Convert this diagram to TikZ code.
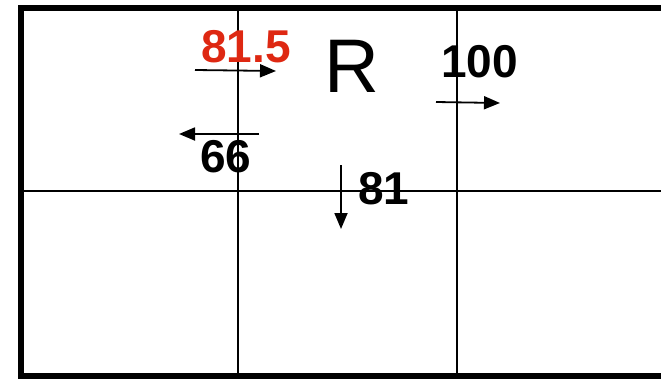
\documentclass[tikz,border=0pt]{standalone}
\usepackage{fontspec}
\setmainfont{Liberation Sans}
\usetikzlibrary{arrows.meta}
\definecolor{redval}{RGB}{222,40,18}
\begin{document}
\begin{tikzpicture}[x=1pt,y=-1pt,
  thick border/.style={line width=6pt},
  grid line/.style={line width=2pt},
  flow/.style={line width=1.8pt,-{Triangle[length=16pt,width=13pt]}},
  val/.style={inner sep=0pt,font=\fontsize{46}{50}\bfseries\selectfont},
  lbl/.style={inner sep=0pt,font=\fontsize{76}{80}\selectfont}]
\useasboundingbox (0,0) rectangle (661,378);
% grid
\draw[grid line] (20,190.5) -- (661,190.5);
\draw[grid line] (238,7) -- (238,376);
\draw[grid line] (457,7) -- (457,376);
\draw[thick border] (661,7.5) -- (20.5,7.5) -- (20.5,375.5) -- (661,375.5);
% labels
\node[lbl] (R) at (352,66) {R};
\node[val,text=redval] (v815) at (246,46.5) {81.5};
\node[val] (v66) at (226,157) {66};
\node[val] (v100) at (479.5,61.5) {100};
\node[val] (v81) at (384,189) {81};
% arrows
\coordinate (a1s) at (195,70); \coordinate (a1e) at (276,71);
\coordinate (a2s) at (259,134); \coordinate (a2e) at (179,134);
\coordinate (a3s) at (436,102); \coordinate (a3e) at (500,103);
\coordinate (a4s) at (341,165); \coordinate (a4e) at (341,229);
\draw[flow] (a1s) -- (a1e);
\draw[flow] (a2s) -- (a2e);
\draw[flow] (a3s) -- (a3e);
\draw[flow] (a4s) -- (a4e);
\end{tikzpicture}
\end{document}
